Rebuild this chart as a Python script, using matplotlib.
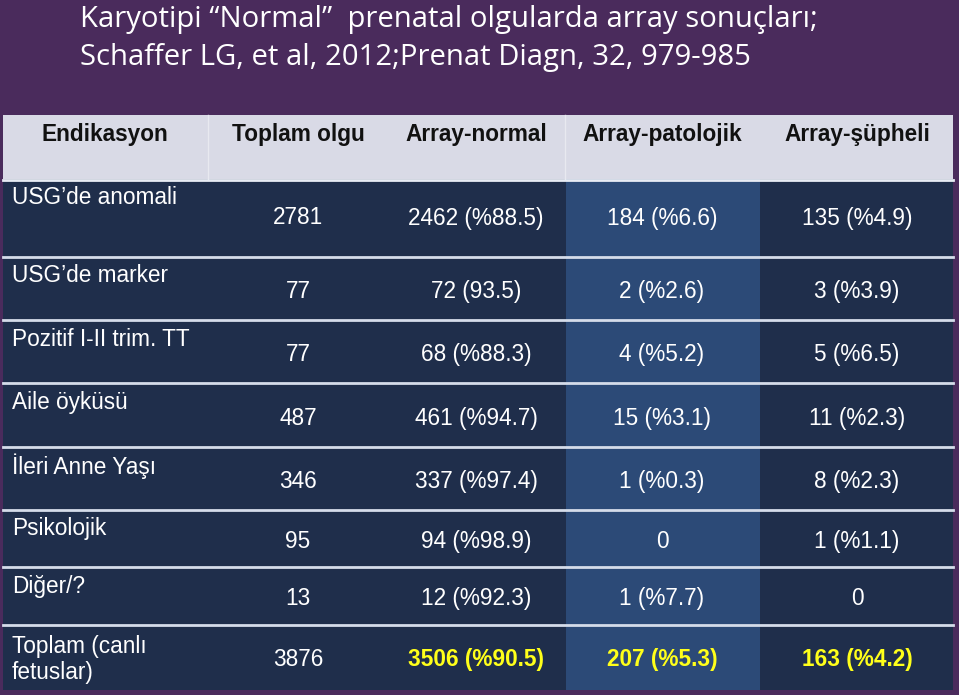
import matplotlib.pyplot as plt
from matplotlib.patches import Rectangle

# slide text
title_lines = ["Karyotipi \u201cNormal\u201d  prenatal olgularda array sonuçları;",
               "Schaffer LG, et al, 2012;Prenat Diagn, 32, 979-985"]
headers = ["Endikasyon", "Toplam olgu", "Array-normal", "Array-patolojik", "Array-şüpheli"]
indications = ["USG\u2019de anomali", "USG\u2019de marker", "Pozitif I-II trim. TT", "Aile öyküsü",
               "İleri Anne Yaşı", "Psikolojik", "Diğer/?", "Toplam (canlı\nfetuslar)"]
total_cases = ["2781", "77", "77", "487", "346", "95", "13", "3876"]
array_normal = ["2462 (%88.5)", "72 (93.5)", "68 (%88.3)", "461 (%94.7)", "337 (%97.4)",
                "94 (%98.9)", "12 (%92.3)", "3506 (%90.5)"]
array_patho = ["184 (%6.6)", "2 (%2.6)", "4 (%5.2)", "15 (%3.1)", "1 (%0.3)",
               "0", "1 (%7.7)", "207 (%5.3)"]
array_susp = ["135 (%4.9)", "3 (%3.9)", "5 (%6.5)", "11 (%2.3)", "8 (%2.3)",
              "1 (%1.1)", "0", "163 (%4.2)"]

# layout in pixels
W, H = 959, 695
row_edges = [179, 257, 320, 383, 447, 510, 567, 625, 690]
col_centers = [105, 298, 476, 662, 857]
table_left, table_right = 3, 953
light_col = (566, 760)

bg = "#4a2b5c"
head_bg = "#d9dae6"
dark = "#1f2e4b"
light = "#2c4a77"
yellow = "#ffff1a"
fs = 16.3

fig = plt.figure(figsize=(W / 100, H / 100), dpi=100, facecolor=bg)
ax = fig.add_axes([0, 0, 1, 1])
ax.set_xlim(0, W)
ax.set_ylim(H, 0)
ax.axis("off")

for i, line in enumerate(title_lines):
    ax.text(80, 19 + i * 39, line, fontsize=21.1, color="white", family="Open Sans",
            ha="left", va="center")

# header row
ax.add_patch(Rectangle((table_left, 115), table_right - table_left, row_edges[0] - 115,
                       facecolor=head_bg, edgecolor="none"))
for xd in [208, 565]:
    ax.plot([xd, xd], [115, row_edges[0]], color="#e8e9f0", lw=1)
for xc, h in zip(col_centers, headers):
    ax.text(xc, 134, h, fontsize=fs, fontweight="bold", color="#111111",
            family="Liberation Sans", ha="center", va="center")

# body
top, bot = row_edges[0], row_edges[-1]
ax.add_patch(Rectangle((table_left, top), table_right - table_left, bot - top,
                       facecolor=dark, edgecolor="none"))
ax.add_patch(Rectangle((light_col[0], top), light_col[1] - light_col[0], bot - top,
                       facecolor=light, edgecolor="none"))
ax.plot([table_left, table_right], [top + 1, top + 1], color="#e8ecf4", lw=2)
for ye in row_edges[1:-1]:
    ax.plot([table_left, table_right], [ye, ye], color="#d5dcea", lw=2)

nrows = len(indications)
for r in range(nrows):
    y0, y1 = row_edges[r], row_edges[r + 1]
    is_total = r == nrows - 1
    if is_total:
        ax.text(12, (y0 + y1) / 2 + 2, indications[r], fontsize=fs, color="white",
                family="Liberation Sans", ha="left", va="center", linespacing=1.2)
    else:
        ax.text(12, y0 + 19, indications[r], fontsize=fs, color="white",
                family="Liberation Sans", ha="left", va="center")
    yv = y0 + (y1 - y0) * 0.55 if not is_total else (y0 + y1) / 2 + 2
    if r == 0:
        yv = 218
    vals = [total_cases[r], array_normal[r], array_patho[r], array_susp[r]]
    for c, v in enumerate(vals):
        bold = is_total and c > 0
        ax.text(col_centers[c + 1], yv, v, fontsize=fs,
                color=yellow if bold else "white",
                fontweight="bold" if bold else "normal",
                family="Liberation Sans", ha="center", va="center")

fig.savefig("out.png", dpi=100, facecolor=bg)
